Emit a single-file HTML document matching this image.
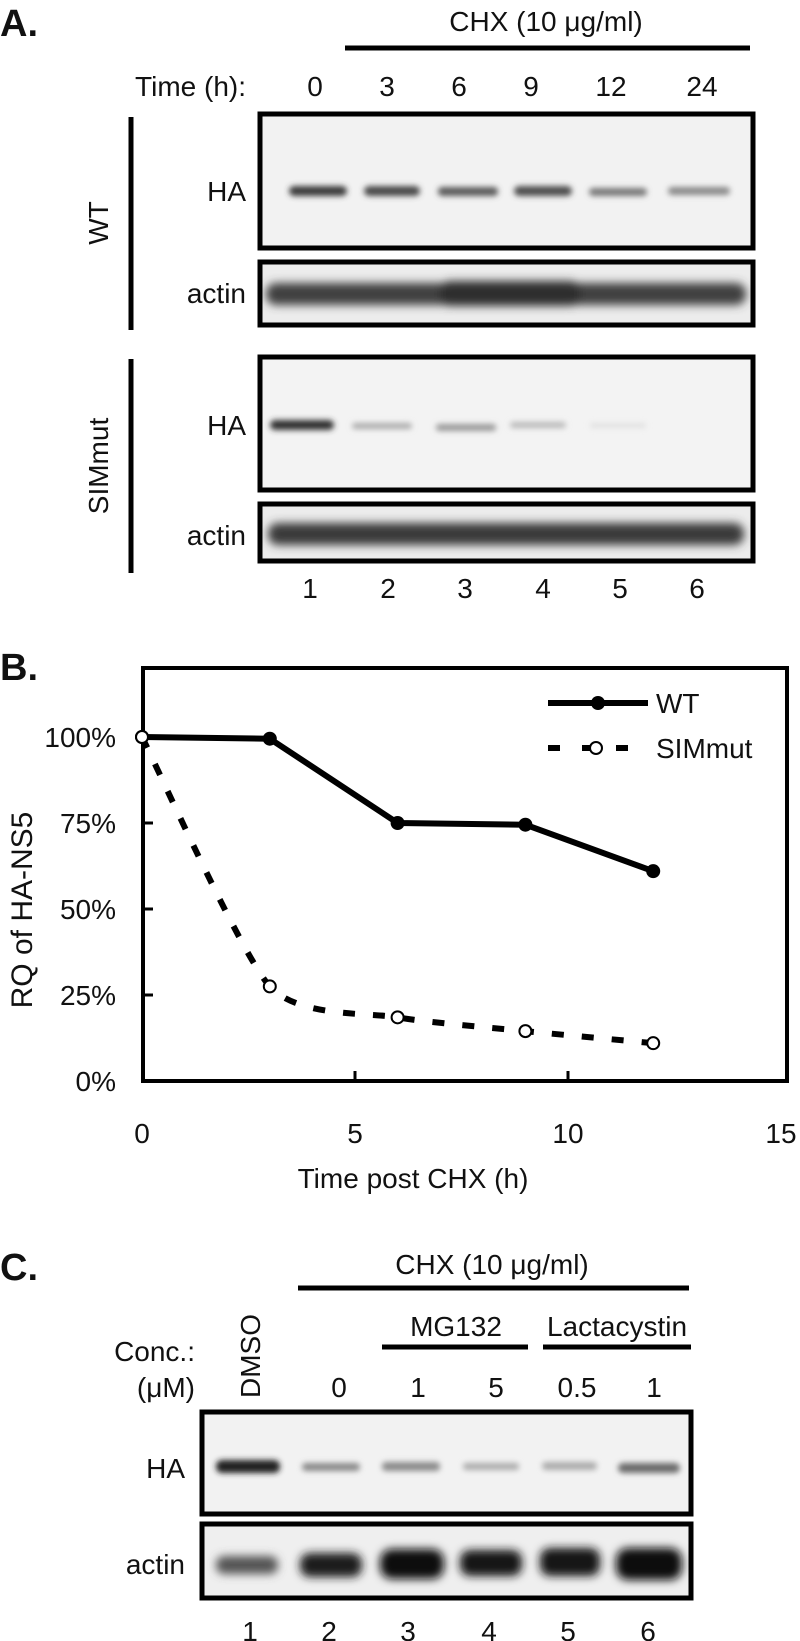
<!DOCTYPE html>
<html><head><meta charset="utf-8">
<style>
html,body{margin:0;padding:0;background:#fff;}
svg{display:block;font-family:"Liberation Sans",sans-serif;}
text{fill:#111;}
</style></head>
<body>
<svg id="fig" width="800" height="1641" viewBox="0 0 800 1641" xmlns="http://www.w3.org/2000/svg">
<defs>
  <filter id="blur" x="-30%" y="-100%" width="160%" height="300%"><feGaussianBlur stdDeviation="3"/></filter>
  <filter id="blur2" x="-30%" y="-100%" width="160%" height="300%"><feGaussianBlur stdDeviation="4.5"/></filter>
</defs>

<!-- ================= PANEL A ================= -->
<g>
  <text x="0" y="36" font-size="38" font-weight="bold">A.</text>
  <text x="546" y="31" font-size="28" text-anchor="middle">CHX (10 μg/ml)</text>
  <line x1="345" y1="48" x2="750" y2="48" stroke="#000" stroke-width="5"/>
  <text x="246" y="96" font-size="28" text-anchor="end">Time (h):</text>
  <g font-size="28" text-anchor="middle">
    <text x="315" y="96">0</text><text x="387" y="96">3</text><text x="459" y="96">6</text>
    <text x="531" y="96">9</text><text x="611" y="96">12</text><text x="702" y="96">24</text>
  </g>
  <line x1="131" y1="117" x2="131" y2="330" stroke="#000" stroke-width="5"/>
  <text transform="translate(108,223) rotate(-90)" font-size="28" text-anchor="middle">WT</text>
  <text x="246" y="201" font-size="28" text-anchor="end">HA</text>
  <text x="246" y="303" font-size="28" text-anchor="end">actin</text>
  <g>
    <rect x="260" y="114" width="493" height="134" fill="#f2f2f2"/>
    <g filter="url(#blur)">
      <rect x="289" y="186" width="58" height="10" rx="5" fill="#3a3a3a"/>
      <rect x="364" y="186" width="56" height="10" rx="5" fill="#4a4a4a"/>
      <rect x="438" y="187" width="60" height="9" rx="4" fill="#5a5a5a"/>
      <rect x="514" y="186" width="58" height="10" rx="5" fill="#4e4e4e"/>
      <rect x="589" y="188" width="58" height="8" rx="4" fill="#777"/>
      <rect x="668" y="187" width="62" height="8" rx="4" fill="#888"/>
    </g>
    <rect x="260" y="114" width="493" height="134" fill="none" stroke="#000" stroke-width="5"/>
  </g>
  <g>
    <rect x="260" y="262" width="493" height="63" fill="#ececec"/>
    <g filter="url(#blur2)">
      <rect x="266" y="283" width="480" height="22" rx="10" fill="#3f3f3f"/>
      <rect x="440" y="281" width="140" height="25" rx="10" fill="#2e2e2e"/>
    </g>
    <rect x="260" y="262" width="493" height="63" fill="none" stroke="#000" stroke-width="5"/>
  </g>
  <line x1="131" y1="359" x2="131" y2="573" stroke="#000" stroke-width="5"/>
  <text transform="translate(108,466) rotate(-90)" font-size="28" text-anchor="middle">SIMmut</text>
  <text x="246" y="435" font-size="28" text-anchor="end">HA</text>
  <text x="246" y="545" font-size="28" text-anchor="end">actin</text>
  <g>
    <rect x="260" y="357" width="493" height="133" fill="#f3f3f3"/>
    <g filter="url(#blur)">
      <rect x="270" y="420" width="64" height="10" rx="5" fill="#333"/>
      <rect x="352" y="423" width="60" height="6" rx="3" fill="#aaa"/>
      <rect x="436" y="424" width="60" height="7" rx="3" fill="#999"/>
      <rect x="510" y="422" width="56" height="6" rx="3" fill="#b8b8b8"/>
      <rect x="590" y="423" width="56" height="5" rx="2" fill="#e0e0e0"/>
    </g>
    <rect x="260" y="357" width="493" height="133" fill="none" stroke="#000" stroke-width="5"/>
  </g>
  <g>
    <rect x="260" y="504" width="493" height="57" fill="#ececec"/>
    <g filter="url(#blur2)">
      <rect x="268" y="523" width="476" height="22" rx="10" fill="#3a3a3a"/>
    </g>
    <rect x="260" y="504" width="493" height="57" fill="none" stroke="#000" stroke-width="5"/>
  </g>
  <g font-size="28" text-anchor="middle">
    <text x="310" y="598">1</text><text x="388" y="598">2</text><text x="465" y="598">3</text>
    <text x="543" y="598">4</text><text x="620" y="598">5</text><text x="697" y="598">6</text>
  </g>
</g>

<!-- ================= PANEL B ================= -->
<g id="chart">
  <text x="0" y="680" font-size="38" font-weight="bold">B.</text>
  <rect x="143" y="668" width="644" height="413" fill="none" stroke="#000" stroke-width="4"/>
  <text transform="translate(32,910) rotate(-90)" font-size="30" text-anchor="middle">RQ of HA-NS5</text>
  <text x="413" y="1188" font-size="28" text-anchor="middle">Time  post CHX (h)</text>
  <g id="yticks"></g>
  <g id="xticks"></g>
  <g id="series"></g>
  <g>
    <g>
      <line x1="548" y1="703" x2="648" y2="703" stroke="#000" stroke-width="6"/>
      <circle cx="598" cy="703" r="7" fill="#000"/>
      <text x="656" y="713" font-size="28">WT</text>
    </g>
    <g>
      <line x1="548" y1="748" x2="648" y2="748" stroke="#000" stroke-width="6" stroke-dasharray="12,22"/>
      <circle cx="596" cy="748" r="6" fill="#fff" stroke="#000" stroke-width="2"/>
      <text x="656" y="758" font-size="28">SIMmut</text>
    </g>
  </g>
</g>

<!-- ================= PANEL C ================= -->
<g>
  <text x="0" y="1280" font-size="38" font-weight="bold">C.</text>
  <text x="492" y="1274" font-size="28" text-anchor="middle">CHX (10 μg/ml)</text>
  <line x1="298" y1="1288" x2="689" y2="1288" stroke="#000" stroke-width="5"/>
  <text x="456" y="1336" font-size="28" text-anchor="middle">MG132</text>
  <line x1="382" y1="1347" x2="528" y2="1347" stroke="#000" stroke-width="5"/>
  <text x="617" y="1336" font-size="28" text-anchor="middle">Lactacystin</text>
  <line x1="543" y1="1347" x2="691" y2="1347" stroke="#000" stroke-width="5"/>
  <text x="195" y="1361" font-size="28" text-anchor="end">Conc.:</text>
  <text x="195" y="1397" font-size="28" text-anchor="end">(μM)</text>
  <text transform="translate(260,1356) rotate(-90)" font-size="28" text-anchor="middle">DMSO</text>
  <g font-size="28" text-anchor="middle">
    <text x="339" y="1397">0</text><text x="418" y="1397">1</text><text x="496" y="1397">5</text>
    <text x="577" y="1397">0.5</text><text x="654" y="1397">1</text>
  </g>
  <text x="185" y="1478" font-size="28" text-anchor="end">HA</text>
  <text x="185" y="1574" font-size="28" text-anchor="end">actin</text>
  <g>
    <rect x="202" y="1412" width="489" height="102" fill="#f2f2f2"/>
    <g filter="url(#blur)">
      <rect x="216" y="1460" width="64" height="13" rx="6" fill="#222"/>
      <rect x="302" y="1463" width="58" height="8" rx="4" fill="#888"/>
      <rect x="382" y="1462" width="58" height="9" rx="4" fill="#8a8a8a"/>
      <rect x="463" y="1463" width="56" height="7" rx="3" fill="#aaa"/>
      <rect x="542" y="1462" width="55" height="8" rx="4" fill="#aaa"/>
      <rect x="618" y="1463" width="62" height="10" rx="5" fill="#6a6a6a"/>
    </g>
    <rect x="202" y="1412" width="489" height="102" fill="none" stroke="#000" stroke-width="5"/>
  </g>
  <g>
    <rect x="202" y="1524" width="489" height="74" fill="#efefef"/>
    <g filter="url(#blur2)">
      <rect x="216" y="1556" width="62" height="18" rx="8" fill="#555"/>
      <rect x="300" y="1553" width="62" height="24" rx="10" fill="#1e1e1e"/>
      <rect x="380" y="1549" width="64" height="30" rx="12" fill="#111"/>
      <rect x="460" y="1550" width="62" height="26" rx="10" fill="#151515"/>
      <rect x="540" y="1548" width="60" height="28" rx="10" fill="#151515"/>
      <rect x="616" y="1548" width="66" height="32" rx="12" fill="#111"/>
    </g>
    <rect x="202" y="1524" width="489" height="74" fill="none" stroke="#000" stroke-width="5"/>
  </g>
  <g font-size="28" text-anchor="middle">
    <text x="250" y="1641">1</text><text x="329" y="1641">2</text><text x="408" y="1641">3</text>
    <text x="489" y="1641">4</text><text x="568" y="1641">5</text><text x="648" y="1641">6</text>
  </g>
</g>
</svg>

<script>
const timePoints = [0, 3, 6, 9, 12];
const wtValues = [100, 99.5, 75, 74.5, 61];
const simmutValues = [100, 27.5, 18.5, 14.5, 11];
const yTickValues = [0, 25, 50, 75, 100];
const yTickLabels = ["0%", "25%", "50%", "75%", "100%"];
const xTickValues = [0, 5, 10, 15];
const xTickLabels = ["0", "5", "10", "15"];

const NS = "http://www.w3.org/2000/svg";
const X0 = 142, X1 = 781, Y0 = 1081, Y100 = 737;
function xScale(t){ return X0 + (t - 0) / 15 * (X1 - X0); }
function yScale(v){ return Y0 - v / 100 * (Y0 - Y100); }
function mk(tag, attrs, parent){ const e = document.createElementNS(NS, tag); for (const k in attrs) e.setAttribute(k, attrs[k]); parent.appendChild(e); return e; }

const yt = document.getElementById("yticks");
yTickValues.forEach((v, i) => {
  const y = yScale(v);
  const tk = mk("line", {x1: 143, x2: 153, y1: y, y2: y, stroke: "#000", "stroke-width": 3}, yt);
  
  
  const lb = mk("text", {x: 116, y: y + 10, "font-size": 28, "text-anchor": "end"}, yt);
  lb.textContent = yTickLabels[i];
  
  
});
const xt = document.getElementById("xticks");
xTickValues.forEach((v, i) => {
  const x = xScale(v);
  if (v > 0 && v < 15) {
    const tk = mk("line", {x1: x, x2: x, y1: 1081, y2: 1071, stroke: "#000", "stroke-width": 3}, xt);
    
    
  }
  const lb = mk("text", {x: x, y: 1143, "font-size": 28, "text-anchor": "middle"}, xt);
  lb.textContent = xTickLabels[i];
  
  
});

const sg = document.getElementById("series");
const sp = timePoints.map((t, i) => [xScale(t), yScale(simmutValues[i])]);
let d = "M" + sp[0][0] + "," + sp[0][1];
for (let i = 0; i < sp.length - 1; i++) {
  const p0 = sp[Math.max(0, i - 1)], p1 = sp[i], p2 = sp[i + 1], p3 = sp[Math.min(sp.length - 1, i + 2)];
  const k = 9;
  const c1 = [p1[0] + (p2[0] - p0[0]) / k, p1[1] + (p2[1] - p0[1]) / k];
  const c2 = [p2[0] - (p3[0] - p1[0]) / k, p2[1] - (p3[1] - p1[1]) / k];
  d += " C" + c1[0] + "," + c1[1] + " " + c2[0] + "," + c2[1] + " " + p2[0] + "," + p2[1];
}
const sl = mk("path", {d: d, fill: "none", stroke: "#000", "stroke-width": 6, "stroke-dasharray": "12,18"}, sg);



const wl = mk("polyline", {points: timePoints.map((t, i) => xScale(t) + "," + yScale(wtValues[i])).join(" "), fill: "none", stroke: "#000", "stroke-width": 6, "stroke-linejoin": "round"}, sg);



timePoints.forEach((t, i) => {
  const c = mk("circle", {cx: xScale(t), cy: yScale(wtValues[i]), r: 7, fill: "#000"}, sg);
  
  
});
timePoints.forEach((t, i) => {
  const c = mk("circle", {cx: xScale(t), cy: yScale(simmutValues[i]), r: 6, fill: "#fff", stroke: "#000", "stroke-width": 2}, sg);
  
  
});
</script>
</body></html>
